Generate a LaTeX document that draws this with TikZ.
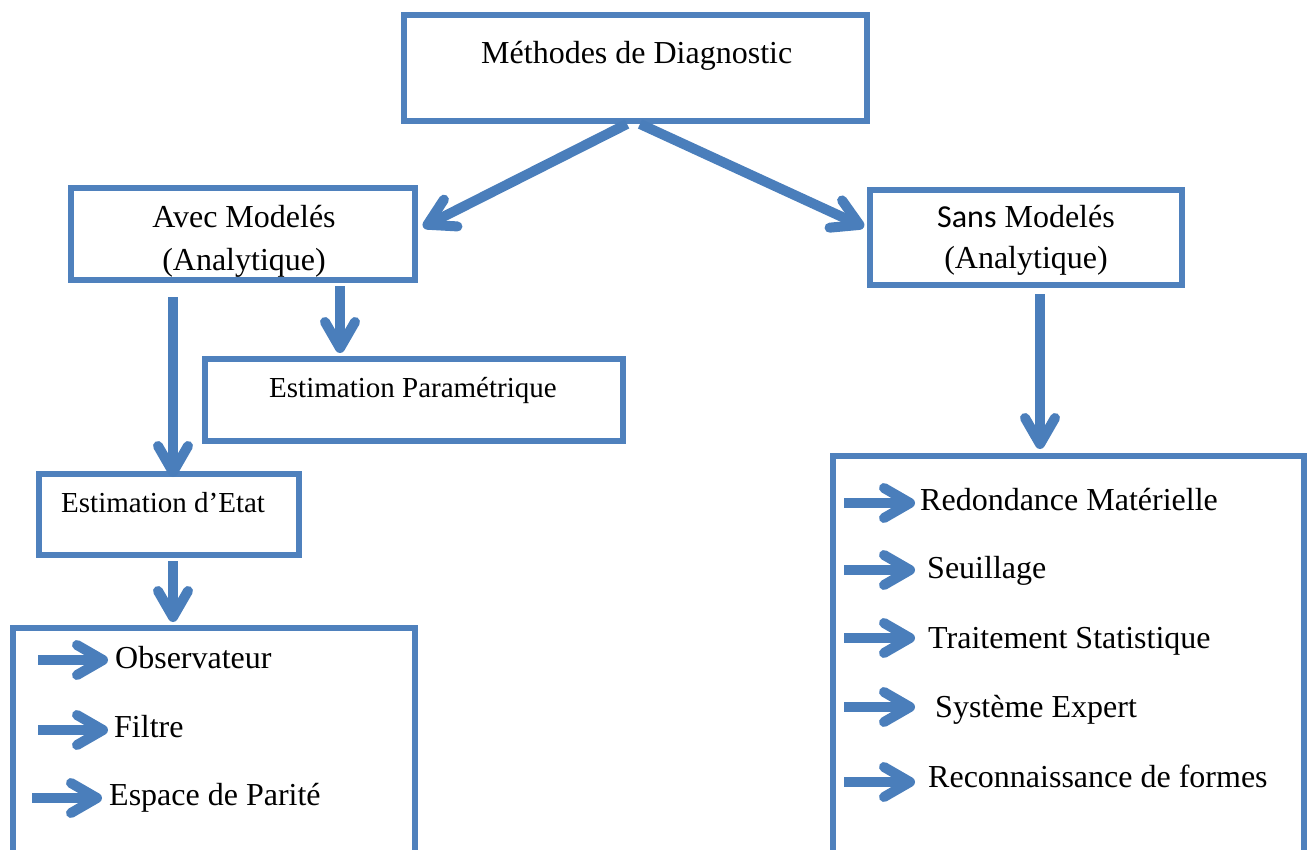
\documentclass[tikz,border=0pt]{standalone}
\usepackage{fontspec}
\setmainfont{Liberation Serif}
\newfontfamily\sansfnt{Carlito}
\usetikzlibrary{arrows.meta}
\definecolor{boxblue}{RGB}{79,129,189}
\definecolor{arrblue}{RGB}{74,126,187}
\begin{document}
\begin{tikzpicture}[x=1pt,y=-1pt,
 box/.style={draw=boxblue,line width=6pt,inner sep=0pt,rectangle},
 lbl/.style={inner sep=0pt,font=\fontsize{32}{38}\selectfont},
 slbl/.style={inner sep=0pt,font=\fontsize{29}{35}\selectfont},
 arr/.style={draw=arrblue,line width=10pt,-{Straight Barb[length=26pt,width=30pt,round]}},
]
\useasboundingbox (0,0) rectangle (1311,850);
\clip (0,0) rectangle (1311,850);
% boxes
\node[box,minimum width=463pt,minimum height=106pt] (meth) at (635.5,68) {};
\node[box,minimum width=344pt,minimum height=92pt] (avec) at (243,234) {};
\node[box,minimum width=312pt,minimum height=95pt] (sans) at (1026,237.5) {};
\node[box,minimum width=418pt,minimum height=82pt] (param) at (414,400) {};
\node[box,minimum width=260pt,minimum height=81pt] (etat) at (169,514.5) {};
\node[box,minimum width=402pt,minimum height=272pt] (bl) at (214,764) {};
\node[box,minimum width=471pt,minimum height=444pt] (br) at (1068.5,678) {};
% texts
\node[lbl,anchor=base west] (tm) at (481,64) {Méthodes de Diagnostic};
\node[lbl,anchor=base] (ta1) at (244,228) {Avec Modelés};
\node[lbl,anchor=base] (ta2) at (244,270) {(Analytique)};
\node[lbl,anchor=base] (ts1) at (1026,227.5) {{\sansfnt Sans} Modelés};
\node[lbl,anchor=base] (ts2) at (1026,269) {(Analytique)};
\node[slbl,anchor=base west] (tp) at (269,397) {Estimation Paramétrique};
\node[slbl,anchor=base west] (te) at (61,512) {Estimation d’Etat};
\node[lbl,anchor=base west] (o1) at (115,668) {Observateur};
\node[lbl,anchor=base west] (o2) at (114,737) {Filtre};
\node[lbl,anchor=base west] (o3) at (109,805) {Espace de Parité};
\node[lbl,anchor=base west] (r1) at (920,510) {Redondance Matérielle};
\node[lbl,anchor=base west] (r2) at (927,578) {Seuillage};
\node[lbl,anchor=base west] (r3) at (928,648) {Traitement Statistique};
\node[lbl,anchor=base west] (r4) at (935,717) {Système Expert};
\node[lbl,anchor=base west] (r5) at (928,787) {Reconnaissance de formes};
% main connectors
\draw[arr] ([xshift=-8.5pt]meth.south) -- ([xshift=5pt,yshift=7pt]avec.east);
\draw[arr] ([xshift=4.5pt]meth.south) -- ([xshift=-3pt,yshift=10.5pt]sans.west);
\draw[arr] ([xshift=-70pt,yshift=-14pt]avec.south) -- ([xshift=4pt,yshift=-6pt]etat.north);
\draw[arr] ([xshift=97pt,yshift=-3pt]avec.south) -- ([xshift=-74pt,yshift=3pt]param.north);
\draw[arr] ([xshift=4pt,yshift=-3pt]etat.south) -- ([xshift=-41pt,yshift=3pt]bl.north);
\draw[arr] ([xshift=14pt,yshift=-6pt]sans.south) -- ([xshift=-28.5pt,yshift=4pt]br.north);
% item arrows
\draw[arr] ([xshift=-77pt,yshift=8pt]o1.base west) -- ([xshift=-7pt,yshift=8pt]o1.base west);
\draw[arr] ([xshift=-76pt,yshift=7pt]o2.base west) -- ([xshift=-6pt,yshift=7pt]o2.base west);
\draw[arr] ([xshift=-77pt,yshift=7pt]o3.base west) -- ([xshift=-7pt,yshift=7pt]o3.base west);
\draw[arr] ([xshift=-76pt,yshift=7pt]r1.base west) -- ([xshift=-5pt,yshift=7pt]r1.base west);
\draw[arr] ([xshift=-83pt,yshift=8pt]r2.base west) -- ([xshift=-12pt,yshift=8pt]r2.base west);
\draw[arr] ([xshift=-84pt,yshift=10pt]r3.base west) -- ([xshift=-13pt,yshift=10pt]r3.base west);
\draw[arr] ([xshift=-91pt,yshift=10pt]r4.base west) -- ([xshift=-20pt,yshift=10pt]r4.base west);
\draw[arr] ([xshift=-84pt,yshift=5pt]r5.base west) -- ([xshift=-13pt,yshift=5pt]r5.base west);
\end{tikzpicture}
\end{document}
